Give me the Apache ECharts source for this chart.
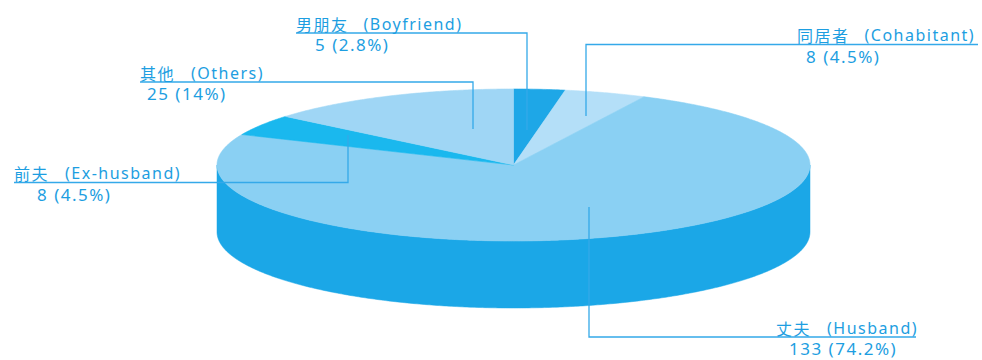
<!DOCTYPE html>
<html>
<head>
<meta charset="utf-8">
<script src="https://cdn.jsdelivr.net/npm/echarts@6/dist/echarts.min.js"></script>
<style>
  html, body { margin: 0; padding: 0; background: #ffffff; }
  #chart { width: 982px; height: 360px; }
  /* the labels are set in a loosely tracked face */
  #chart svg text { letter-spacing: 1.5px; }
</style>
</head>
<body>
<div id="chart"></div>
<script>
// Relationship of the perpetrator: counts, clockwise from 12 o'clock
const chineseNames = ['男朋友', '同居者', '丈夫', '前夫', '其他'];
const englishNames = ['Boyfriend', 'Cohabitant', 'Husband', 'Ex-husband', 'Others'];
const counts = [5, 8, 133, 8, 25];
const percentLabels = ['2.8%', '4.5%', '74.2%', '4.5%', '14%'];

// Top-face colours per slice, and the shared side-wall colour
const topColors = ['#1ea7e7', '#b4dff8', '#8ad0f3', '#1ab8ee', '#9fd6f5'];
const sideColor = '#1ba7e7';
const textColor = '#1d9ee1';
const lineColor = '#34a9e9';

// Ellipse geometry of the tilted disc
const disc = { cx: 513.5, cy: 165, rx: 296.5, ry: 76, depth: 67 };

// Leader-line routes and label anchors for each slice (underline y = nameY)
const labelLayout = [
  { line: [[296, 33], [527, 33], [527, 130]], nameX: 296, nameY: 33, valueX: 315 },
  { line: [[978, 44.5], [586, 44.5], [586, 116]], nameX: 797, nameY: 44.5, valueX: 806 },
  { line: [[916, 337], [589, 337], [589, 207]], nameX: 776, nameY: 337, valueX: 789 },
  { line: [[14, 182.5], [348, 182.5], [348, 135]], nameX: 14, nameY: 182.5, valueX: 37 },
  { line: [[140, 82], [473, 82], [473, 129]], nameX: 140, nameY: 82, valueX: 147 }
];

const CJK_FONT = '16px "Noto Sans CJK SC", sans-serif';
const LATIN_FONT = '16px "Noto Sans", "Noto Sans CJK SC", sans-serif';
const VALUE_FONT = '17px "Noto Sans", "Noto Sans CJK SC", sans-serif';

const total = counts.reduce((s, v) => s + v, 0);
const startAngles = [];
let acc = 0;
counts.forEach(v => { startAngles.push(acc / total * Math.PI * 2); acc += v; });

// angle measured clockwise from the top of the disc
function rimPoint(theta, dy) {
  return [disc.cx + disc.rx * Math.sin(theta), disc.cy - disc.ry * Math.cos(theta) + (dy || 0)];
}

function arcPoints(a, b, dy) {
  const pts = [];
  const steps = Math.max(2, Math.ceil(Math.abs(b - a) / (Math.PI / 360)));
  for (let i = 0; i <= steps; i++) pts.push(rimPoint(a + (b - a) * i / steps, dy));
  return pts;
}

function renderSlice(params, api) {
  const i = params.dataIndex;
  const value = api.value(0);
  const a = startAngles[i];
  const b = a + value / total * Math.PI * 2;
  const children = [];

  // front side wall: only the part facing the viewer (90°..270°)
  const fa = Math.max(a, Math.PI / 2);
  const fb = Math.min(b, Math.PI * 3 / 2);
  if (fb > fa) {
    const top = arcPoints(fa, fb, 0);
    const bottom = arcPoints(fb, fa, disc.depth);
    children.push({
      type: 'polygon',
      z2: 1,
      shape: { points: top.concat(bottom) },
      style: { fill: sideColor, stroke: sideColor, lineWidth: 0.5 }
    });
  }

  // top face sector
  children.push({
    type: 'polygon',
    z2: 5,
    shape: { points: [[disc.cx, disc.cy]].concat(arcPoints(a, b, 0)) },
    style: { fill: topColors[i], stroke: topColors[i], lineWidth: 0.6 }
  });

  // leader line, running on as the label's underline
  const lay = labelLayout[i];
  children.push({
    type: 'polyline',
    z2: 8,
    shape: { points: lay.line },
    style: { stroke: lineColor, lineWidth: 1.3, fill: null }
  });

  const cjk = chineseNames[i];
  children.push({
    type: 'text',
    z2: 9,
    style: {
      text: cjk,
      x: lay.nameX, y: lay.nameY - 1.5,
      fill: textColor, font: CJK_FONT, lineHeight: 16,
      textAlign: 'left', textVerticalAlign: 'bottom'
    }
  });
  children.push({
    type: 'text',
    z2: 9,
    style: {
      text: '(' + englishNames[i] + ')',
      x: lay.nameX + cjk.length * 16.5 + 18, y: lay.nameY - 1.5,
      fill: textColor, font: LATIN_FONT, lineHeight: 16,
      textAlign: 'left', textVerticalAlign: 'bottom'
    }
  });
  children.push({
    type: 'text',
    z2: 9,
    style: {
      text: value + ' (' + percentLabels[i] + ')',
      x: lay.valueX, y: lay.nameY + 4,
      fill: textColor, font: VALUE_FONT, lineHeight: 15,
      textAlign: 'left', textVerticalAlign: 'top'
    }
  });

  return { type: 'group', children: children };
}

const chart = echarts.init(document.getElementById('chart'), null, { renderer: 'svg' });
chart.setOption({
  animation: false,
  backgroundColor: '#ffffff',
  series: [{
    type: 'custom',
    coordinateSystem: 'none',
    renderItem: renderSlice,
    data: counts.map(v => [v])
  }]
});
</script>
</body>
</html>
